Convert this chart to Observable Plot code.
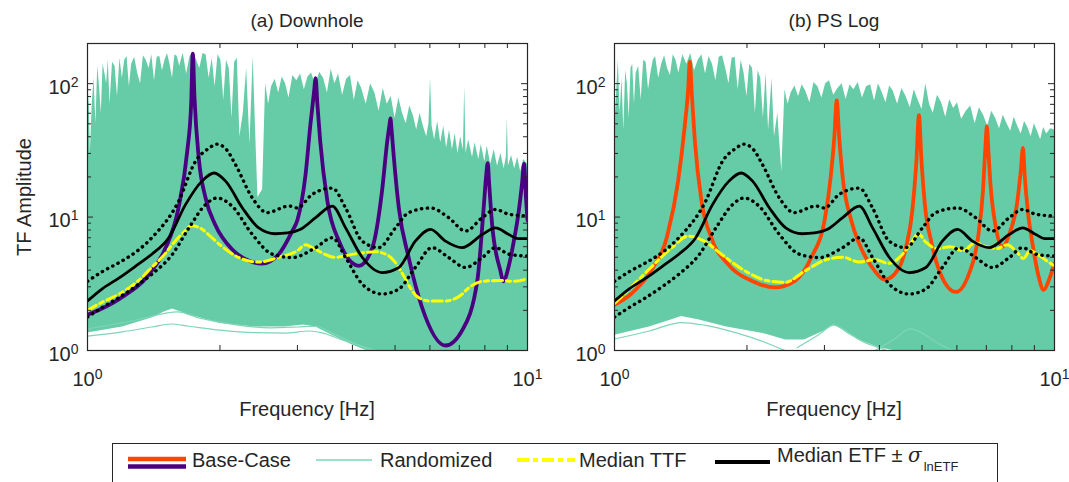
<!DOCTYPE html>
<html><head><meta charset="utf-8">
<script src="https://cdn.jsdelivr.net/npm/d3@7"></script>
<script src="https://cdn.jsdelivr.net/npm/@observablehq/plot@0.6"></script>
<style>
body{margin:0;background:#fff;}
#root{position:relative;width:1069px;height:482px;overflow:hidden;font-family:"Liberation Sans",Arial,Helvetica,sans-serif;color:#262626;}
.t{position:absolute;white-space:nowrap;line-height:1;}
</style></head><body><div id="root"></div>
<script>
// ---------------- DATA ----------------
const panelTitles = ["(a) Downhole", "(b) PS Log"];
const yLabel = "TF Amplitude";
const xLabel = "Frequency [Hz]";
const legendLabels = ["Base-Case", "Randomized", "Median TTF", "Median ETF \u00b1 "];
const xMajorTicks = [1, 10];
const xMinorTicks = [2, 3, 4, 5, 6, 7, 8, 9];
const yMajorTicks = [1, 10, 100];
const yMinorTicks = [2, 3, 4, 5, 6, 7, 8, 9, 20, 30, 40, 50, 60, 70, 80, 90];

// Median ETF and +/- sigma (same in both panels)
const medEtfFreq = [1.0, 1.08, 1.18, 1.3, 1.4, 1.53, 1.67, 1.82, 1.94, 2.06, 2.25, 2.45, 2.67, 2.85, 3.05, 3.3, 3.6, 3.86, 4.21, 4.67, 5.1, 5.56, 6.02, 6.51, 7.1, 7.89, 8.46, 9.07, 9.5, 10];
const medEtf = [2.35, 2.9, 3.5, 4.4, 5.27, 7.0, 12.4, 18.6, 21.4, 18.6, 11.7, 8.3, 7.5, 7.6, 8.1, 9.9, 12.1, 8.3, 5.0, 3.84, 4.19, 6.6, 8.1, 6.6, 5.9, 7.4, 8.3, 7.4, 6.9, 6.9];
const etfPlusFreq = [1.0, 1.08, 1.18, 1.3, 1.4, 1.61, 1.76, 1.88, 1.97, 2.07, 2.17, 2.37, 2.56, 2.87, 3.0, 3.24, 3.6, 3.86, 4.21, 4.59, 5.01, 5.37, 6.02, 6.62, 7.23, 7.89, 8.46, 9.07, 10];
const etfPlus = [3.3, 3.9, 4.56, 5.6, 7.0, 13.1, 26.2, 32.5, 35.2, 32, 24.7, 13.9, 10.8, 12.1, 11.7, 14.8, 16.5, 11.7, 6.6, 5.9, 8.3, 10.8, 11.7, 9.9, 7.86, 9.9, 11.4, 10.5, 10.2];
const etfMinusFreq = [1.0, 1.08, 1.18, 1.3, 1.4, 1.56, 1.70, 1.855, 1.97, 2.13, 2.37, 2.63, 2.92, 3.3, 3.6, 3.86, 4.21, 4.67, 5.1, 5.56, 6.07, 6.62, 7.23, 7.89, 8.46, 9.07, 10];
const etfMinus = [1.78, 2.1, 2.5, 3.1, 3.73, 5.27, 8.3, 12.4, 13.9, 12.1, 7.4, 5.27, 4.97, 5.9, 7.0, 4.97, 3.15, 2.65, 2.89, 4.19, 5.9, 4.97, 4.19, 4.97, 5.9, 5.27, 5.1];

// Panel (a) Downhole
const baseFreqA = [1.0, 1.18, 1.38, 1.5, 1.61, 1.685, 1.72, 1.735, 1.75, 1.79, 1.855, 1.95, 2.13, 2.33, 2.49, 2.72, 2.92, 3.0, 3.13, 3.21, 3.27, 3.30, 3.33, 3.38, 3.51, 3.73, 4.14, 4.44, 4.67, 4.80, 4.86, 4.88, 4.91, 4.97, 5.10, 5.37, 5.76, 6.51, 7.10, 7.69, 7.95, 8.05, 8.12, 8.18, 8.31, 8.68, 8.81, 9.05, 9.3, 9.55, 9.72, 9.82, 9.92, 10];
const baseA = [1.85, 2.43, 3.73, 5.74, 11.7, 31, 70, 168, 80, 27.7, 13.9, 8.8, 5.74, 4.7, 4.48, 5.27, 7.86, 9.5, 20.8, 49, 85, 110, 70, 37, 13.1, 6.6, 4.31, 5.9, 15.6, 37, 50, 55, 45, 27.7, 11.7, 4.97, 2.1, 1.09, 1.41, 3.33, 11.7, 20, 25.4, 18, 8.8, 3.95, 3.3, 4.2, 6.5, 11, 18, 25, 14, 9.5];
const ttfFreqA = [1.0, 1.08, 1.18, 1.3, 1.4, 1.5, 1.56, 1.66, 1.72, 1.8, 1.9, 2.0, 2.2, 2.45, 2.72, 3.0, 3.13, 3.3, 3.66, 4.06, 4.5, 4.8, 5.0, 5.19, 5.4, 5.6, 6.0, 6.5, 7.0, 7.4, 7.9, 8.7, 9.3, 10];
const ttfA = [2.0, 2.3, 2.65, 3.3, 4.2, 5.3, 6.25, 7.8, 8.6, 8.3, 7.2, 6.2, 5.0, 4.6, 5.0, 5.6, 6.2, 5.7, 5.0, 5.3, 5.5, 5.2, 4.6, 3.8, 3.0, 2.55, 2.35, 2.35, 2.55, 3.0, 3.3, 3.35, 3.3, 3.45];
const randTopFreqA = [1.0, 1.008, 1.015, 1.025, 1.035, 1.045, 1.055, 1.065, 1.075, 1.085, 1.095, 1.105, 1.115, 1.125, 1.14, 1.155, 1.17, 1.185, 1.2, 1.215, 1.23, 1.245, 1.26, 1.28, 1.3, 1.32, 1.34, 1.36, 1.38, 1.4, 1.42, 1.44, 1.46, 1.48, 1.5, 1.52, 1.54, 1.56, 1.58, 1.6, 1.62, 1.65, 1.68, 1.71, 1.74, 1.77, 1.8, 1.83, 1.86, 1.89, 1.92, 1.95, 1.98, 2.01, 2.04, 2.07, 2.1, 2.13, 2.16, 2.19, 2.22, 2.26, 2.3, 2.34, 2.38, 2.41, 2.44, 2.5, 2.54, 2.58, 2.62, 2.67, 2.72, 2.77, 2.82, 2.87, 2.93, 2.99, 3.05, 3.11, 3.17, 3.23, 3.3, 3.37, 3.44, 3.51, 3.58, 3.65, 3.72, 3.8, 3.88, 3.96, 4.04, 4.12, 4.2, 4.3, 4.4, 4.5, 4.6, 4.7, 4.8, 4.9, 5.0, 5.1, 5.2, 5.3, 5.4, 5.5, 5.6, 5.7, 5.8, 5.9, 5.97, 6.02, 6.07, 6.15, 6.25, 6.35, 6.45, 6.55, 6.65, 6.75, 6.85, 6.95, 7.05, 7.15, 7.2, 7.25, 7.35, 7.5, 7.6, 7.75, 7.85, 8.0, 8.1, 8.25, 8.4, 8.55, 8.7, 8.85, 8.95, 9.0, 9.05, 9.2, 9.35, 9.5, 9.65, 9.8, 10];
const randTopA = [40, 85, 30, 70, 110, 50, 135, 95, 60, 140, 120, 100, 150, 70, 145, 135, 80, 155, 110, 150, 160, 95, 140, 158, 120, 100, 162, 150, 130, 165, 105, 158, 160, 125, 150, 168, 140, 110, 165, 160, 135, 170, 118, 160, 172, 150, 130, 168, 165, 110, 155, 95, 165, 150, 75, 150, 130, 55, 145, 155, 40, 60, 130, 35, 160, 45, 14, 16, 100, 70, 95, 108, 85, 112, 100, 78, 115, 105, 118, 90, 112, 120, 98, 122, 110, 85, 128, 100, 118, 82, 108, 115, 75, 105, 92, 70, 100, 85, 62, 92, 70, 80, 55, 78, 60, 50, 68, 58, 45, 60, 48, 40, 50, 110, 48, 38, 52, 36, 48, 33, 45, 32, 42, 30, 40, 32, 95, 30, 38, 28, 36, 27, 35, 26, 34, 25, 32, 24, 30, 23, 28, 55, 24, 29, 23, 28, 22, 27, 25];
const randBotFreqA = [1.0, 1.2, 1.4, 1.5, 1.56, 1.7, 2.0, 2.4, 2.8, 3.1, 3.3, 3.6, 4.0, 4.3, 10];
const randBotA = [1.35, 1.5, 1.75, 1.95, 2.05, 1.85, 1.6, 1.5, 1.5, 1.55, 1.5, 1.3, 1.1, 1.0, 1.0];
const strandFreqA1 = [1.0, 1.2, 1.4, 1.55, 1.7, 2.0, 2.4, 2.8, 3.2, 3.4, 3.8, 4.3, 4.8];
const strandA1 = [1.28, 1.38, 1.5, 1.58, 1.52, 1.42, 1.36, 1.35, 1.4, 1.36, 1.2, 1.05, 0.95];
const strandFreqA2 = [1.0, 1.3, 1.5, 1.6, 1.8, 2.2, 2.6, 3.0, 3.3, 3.6, 4.0, 4.4];
const strandA2 = [1.45, 1.7, 1.9, 1.95, 1.75, 1.55, 1.48, 1.5, 1.52, 1.35, 1.15, 1.0];

// Panel (b) PS Log
const baseFreqB = [1.0, 1.09, 1.21, 1.32, 1.395, 1.445, 1.47, 1.483, 1.50, 1.523, 1.577, 1.66, 1.81, 2.05, 2.31, 2.57, 2.80, 3.01, 3.10, 3.16, 3.20, 3.24, 3.30, 3.45, 3.6, 3.85, 4.12, 4.4, 4.6, 4.75, 4.85, 4.92, 4.98, 5.08, 5.25, 5.5, 5.97, 6.4, 6.7, 6.88, 6.97, 7.02, 7.08, 7.15, 7.35, 7.6, 7.95, 8.2, 8.38, 8.48, 8.56, 8.7, 8.9, 9.2, 9.44, 9.75, 10];
const baseB = [2.2, 2.65, 3.95, 7.4, 18.6, 49, 90, 146, 80, 37, 13.1, 7.0, 4.44, 3.33, 2.97, 3.33, 4.97, 9.9, 20, 40, 75, 40, 20, 9.5, 6.3, 4.2, 3.4, 4.0, 6.0, 11, 25, 58, 28, 12, 6.5, 3.8, 2.75, 3.8, 7, 16, 35, 48, 30, 18, 8.5, 6.0, 8, 12, 22, 33, 20, 11, 6.5, 3.6, 2.85, 3.5, 4.5];
const ttfFreqB = [1.0, 1.09, 1.21, 1.35, 1.47, 1.6, 1.75, 1.98, 2.23, 2.44, 2.71, 3.03, 3.3, 3.6, 3.9, 4.2, 4.5, 4.75, 4.9, 5.1, 5.4, 5.8, 6.2, 6.6, 7.0, 7.4, 7.8, 8.2, 8.5, 8.8, 9.2, 9.6, 10];
const ttfB = [2.25, 2.97, 4.19, 5.9, 7.2, 6.6, 5.27, 3.95, 3.33, 3.24, 3.95, 4.8, 5.0, 4.6, 4.8, 4.5, 5.2, 6.6, 7.5, 6.5, 5.8, 6.0, 5.6, 6.4, 6.0, 5.8, 6.2, 5.5, 4.9, 5.6, 5.2, 4.7, 4.3];
const randTopFreqB = [1.0, 1.01, 1.02, 1.03, 1.04, 1.05, 1.06, 1.07, 1.08, 1.09, 1.1, 1.11, 1.12, 1.135, 1.15, 1.165, 1.18, 1.195, 1.21, 1.225, 1.24, 1.26, 1.28, 1.3, 1.32, 1.34, 1.36, 1.38, 1.4, 1.43, 1.46, 1.49, 1.52, 1.55, 1.58, 1.61, 1.64, 1.67, 1.7, 1.73, 1.76, 1.79, 1.82, 1.85, 1.88, 1.91, 1.94, 1.97, 2.0, 2.03, 2.06, 2.09, 2.12, 2.15, 2.18, 2.21, 2.24, 2.28, 2.31, 2.35, 2.4, 2.44, 2.48, 2.52, 2.57, 2.62, 2.67, 2.72, 2.78, 2.84, 2.9, 2.96, 3.02, 3.08, 3.15, 3.22, 3.29, 3.36, 3.43, 3.5, 3.58, 3.66, 3.74, 3.82, 3.9, 3.98, 4.06, 4.14, 4.22, 4.3, 4.4, 4.5, 4.6, 4.7, 4.8, 4.9, 5.0, 5.1, 5.2, 5.3, 5.42, 5.54, 5.66, 5.78, 5.9, 6.02, 6.15, 6.3, 6.45, 6.6, 6.75, 6.9, 7.05, 7.2, 7.35, 7.5, 7.65, 7.8, 7.95, 8.1, 8.25, 8.4, 8.55, 8.7, 8.85, 9.0, 9.15, 9.3, 9.45, 9.6, 9.8, 10];
const randTopB = [40, 80, 150, 60, 110, 45, 125, 100, 55, 130, 140, 70, 120, 135, 75, 150, 145, 90, 120, 150, 160, 110, 140, 162, 130, 115, 165, 150, 120, 165, 140, 168, 125, 150, 165, 118, 160, 140, 105, 158, 162, 130, 100, 155, 158, 90, 150, 120, 80, 140, 130, 60, 125, 110, 55, 120, 45, 110, 40, 60, 22, 90, 70, 85, 96, 80, 98, 88, 72, 102, 95, 78, 100, 105, 82, 92, 100, 76, 98, 90, 102, 78, 95, 98, 74, 100, 86, 72, 96, 88, 70, 92, 80, 66, 90, 75, 64, 100, 70, 60, 82, 72, 56, 76, 65, 72, 54, 62, 68, 50, 66, 58, 48, 62, 55, 46, 58, 50, 44, 56, 48, 42, 52, 47, 40, 50, 44, 38, 47, 42, 46, 45];
const randBotFreqB = [1.0, 1.2, 1.35, 1.42, 1.55, 1.8, 2.2, 2.45, 2.7, 3.0, 3.15, 3.3, 3.6, 4.0, 4.3, 10];
const randBotB = [1.3, 1.5, 1.7, 1.8, 1.7, 1.5, 1.33, 1.2, 1.2, 1.4, 1.55, 1.45, 1.2, 1.05, 1.0, 1.0];
const strandFreqB1 = [1.0, 1.2, 1.42, 1.6, 1.9, 2.2, 2.4, 2.55];
const strandB1 = [1.22, 1.4, 1.62, 1.55, 1.35, 1.15, 1.02, 0.95];
const strandFreqB2 = [2.6, 2.9, 3.15, 3.4, 3.7, 4.0, 4.3];
const strandB2 = [1.05, 1.3, 1.55, 1.35, 1.15, 1.05, 0.95];
const strandFreqB3 = [3.8, 4.3, 4.7, 5.0, 5.4, 5.8, 6.2];
const strandB3 = [0.95, 1.2, 1.45, 1.35, 1.15, 1.02, 0.95];

// ---------------- DRAWING ----------------
const GREEN = "#66cca8", GREEN_LINE = "#7ed5b7", PURPLE = "#4b0082", ORANGE = "#ff4500", YELLOW = "#ffff00", AX = "#262626";
const FONT = "'Liberation Sans', Arial, Helvetica, sans-serif";
const ns = "http://www.w3.org/2000/svg";
const root = document.getElementById("root");
const PW = 440, PH = 307, TOP = 43, SVGH = 400;
const rows = (fs, vs) => fs.map((f, i) => ({f, v: vs[i]}));
const fmt = d => `10^${Math.round(Math.log10(d))}`;
const dotted = {stroke: "#000", strokeWidth: 3.4, strokeDasharray: "0.3,5.6", strokeLinecap: "round", curve: "monotone-x", clip: true};

function panel(cfg) {
  const mr = cfg.svgWidth - cfg.ml - PW;
  const chart = Plot.plot({
    width: cfg.svgWidth, height: SVGH,
    marginLeft: cfg.ml, marginRight: mr, marginTop: TOP, marginBottom: SVGH - TOP - PH,
    x: {type: "log", domain: [1, 10]},
    y: {type: "log", domain: [1, 200]},
    style: {fontFamily: FONT, fontSize: "20px", color: AX, background: "transparent", overflow: "visible"},
    marks: [
      Plot.areaY(rows(cfg.topF, cfg.topV), {x: "f", y1: 1, y2: "v", fill: GREEN, clip: true}),
      Plot.areaY(rows(cfg.botF, cfg.botV), {x: "f", y1: 1, y2: "v", fill: "white", clip: true}),
      ...cfg.strands.map(([f, v]) => Plot.line(rows(f, v), {x: "f", y: "v", stroke: GREEN_LINE, strokeWidth: 1.2, curve: "monotone-x", clip: true})),
      Plot.line(rows(cfg.baseF, cfg.baseV), {x: "f", y: "v", stroke: cfg.baseColor, strokeWidth: 3.8, curve: "monotone-x", clip: true}),
      Plot.line(rows(cfg.ttfF, cfg.ttfV), {x: "f", y: "v", stroke: YELLOW, strokeWidth: 3, strokeDasharray: "10,4,4,4", curve: "monotone-x", clip: true}),
      Plot.line(rows(etfPlusFreq, etfPlus), {x: "f", y: "v", ...dotted}),
      Plot.line(rows(etfMinusFreq, etfMinus), {x: "f", y: "v", ...dotted}),
      Plot.line(rows(medEtfFreq, medEtf), {x: "f", y: "v", stroke: "#000", strokeWidth: 2.8, curve: "monotone-x", clip: true}),
      // inward ticks on all sides
      Plot.tickY(yMinorTicks, {y: d => d, stroke: AX, insetRight: PW - 4}),
      Plot.tickY(yMinorTicks, {y: d => d, stroke: AX, insetLeft: PW - 4}),
      Plot.tickY(yMajorTicks.slice(1), {y: d => d, stroke: AX, insetRight: PW - 6}),
      Plot.tickY(yMajorTicks.slice(1), {y: d => d, stroke: AX, insetLeft: PW - 6}),
      Plot.tickX(xMinorTicks, {x: d => d, stroke: AX, insetTop: PH - 5}),
      Plot.tickX(xMinorTicks, {x: d => d, stroke: AX, insetBottom: PH - 5}),
      Plot.axisY({ticks: yMajorTicks, tickSize: 0, tickPadding: 9, tickFormat: fmt, label: null, fontSize: 20}),
      Plot.axisX({ticks: xMajorTicks, tickSize: 0, tickPadding: 21, tickFormat: fmt, label: null, fontSize: 20}),
      Plot.frame({stroke: AX, strokeWidth: 1.2})
    ]
  });
  chart.querySelectorAll('g[aria-label$="tick label"] text').forEach(t => {
    const m = t.textContent.match(/^10\^(\d)$/);
    if (!m) return;
    t.textContent = "";
    const a = document.createElementNS(ns, "tspan"); a.textContent = "10";
    const b = document.createElementNS(ns, "tspan"); b.textContent = m[1];
    b.setAttribute("dy", "-0.5em"); b.setAttribute("font-size", "14");
    t.append(a, b);
  });
  chart.querySelectorAll('g[aria-label="y-axis tick label"] text').forEach(t => t.setAttribute("transform", (t.getAttribute("transform") || "") + " translate(0,4)"));
  chart.style.position = "absolute";
  chart.style.left = cfg.left + "px";
  chart.style.top = "0px";
  root.appendChild(chart);
}

panel({left: 0, svgWidth: 540, ml: 87, topF: randTopFreqA, topV: randTopA, botF: randBotFreqA, botV: randBotA,
  strands: [[strandFreqA1, strandA1], [strandFreqA2, strandA2]],
  baseF: baseFreqA, baseV: baseA, baseColor: PURPLE, ttfF: ttfFreqA, ttfV: ttfA});
panel({left: 540, svgWidth: 529, ml: 74, topF: randTopFreqB, topV: randTopB, botF: randBotFreqB, botV: randBotB,
  strands: [[strandFreqB1, strandB1], [strandFreqB2, strandB2], [strandFreqB3, strandB3]],
  baseF: baseFreqB, baseV: baseB, baseColor: ORANGE, ttfF: ttfFreqB, ttfV: ttfB});

// HTML text: titles, axis labels
function text(str, x, y, size, anchor = "center", extra = "") {
  const d = document.createElement("div");
  d.className = "t";
  d.style.fontSize = size + "px";
  d.style.left = x + "px";
  d.style.top = y + "px";
  d.style.transform = anchor === "center" ? "translate(-50%,0)" : "";
  d.style.cssText += extra;
  d.innerHTML = str;
  root.appendChild(d);
  return d;
}
const plotCenters = [87 + PW / 2, 540 + 74 + PW / 2];
panelTitles.forEach((s, i) => text(s, plotCenters[i], 11, 19));
plotCenters.forEach(c => text(xLabel, c, 399, 20));
text(yLabel, 24, TOP + PH / 2, 20, "none", "transform:translate(-50%,-50%) rotate(-90deg);");

// Legend
const lg = document.createElement("div");
lg.style.cssText = "position:absolute;left:112px;top:443px;width:886px;height:60px;border:1.2px solid #262626;box-sizing:border-box;background:#fff;";
root.appendChild(lg);
function swatch(x1, x2, lines) {
  const s = document.createElementNS(ns, "svg");
  s.setAttribute("width", 1069); s.setAttribute("height", 482);
  s.style.cssText = "position:absolute;left:0;top:0;overflow:visible;pointer-events:none;";
  lines.forEach(l => {
    const p = document.createElementNS(ns, "line");
    p.setAttribute("x1", x1); p.setAttribute("x2", x2); p.setAttribute("y1", l.y); p.setAttribute("y2", l.y);
    p.setAttribute("stroke", l.c); p.setAttribute("stroke-width", l.w);
    if (l.dash) p.setAttribute("stroke-dasharray", l.dash);
    s.appendChild(p);
  });
  root.appendChild(s);
}
swatch(128, 186, [{y: 459, c: ORANGE, w: 4.5}, {y: 466.5, c: PURPLE, w: 4.5}]);
swatch(316, 372, [{y: 460, c: GREEN_LINE, w: 1.5}]);
swatch(517, 575, [{y: 460, c: YELLOW, w: 4, dash: "12,4,5,4"}]);
swatch(715, 770, [{y: 462, c: "#000", w: 4}]);
text(legendLabels[0], 192, 450, 20, "left");
text(legendLabels[1], 380, 450, 20, "left");
text(legendLabels[2], 579, 450, 20, "left");
text(legendLabels[3] + '<i style="font-family:\'DejaVu Serif\',serif">\u03c3</i><span style="font-size:13px;position:relative;top:9px;margin-left:2px">lnETF</span>', 777, 445, 20, "left");
</script>
</body></html>
